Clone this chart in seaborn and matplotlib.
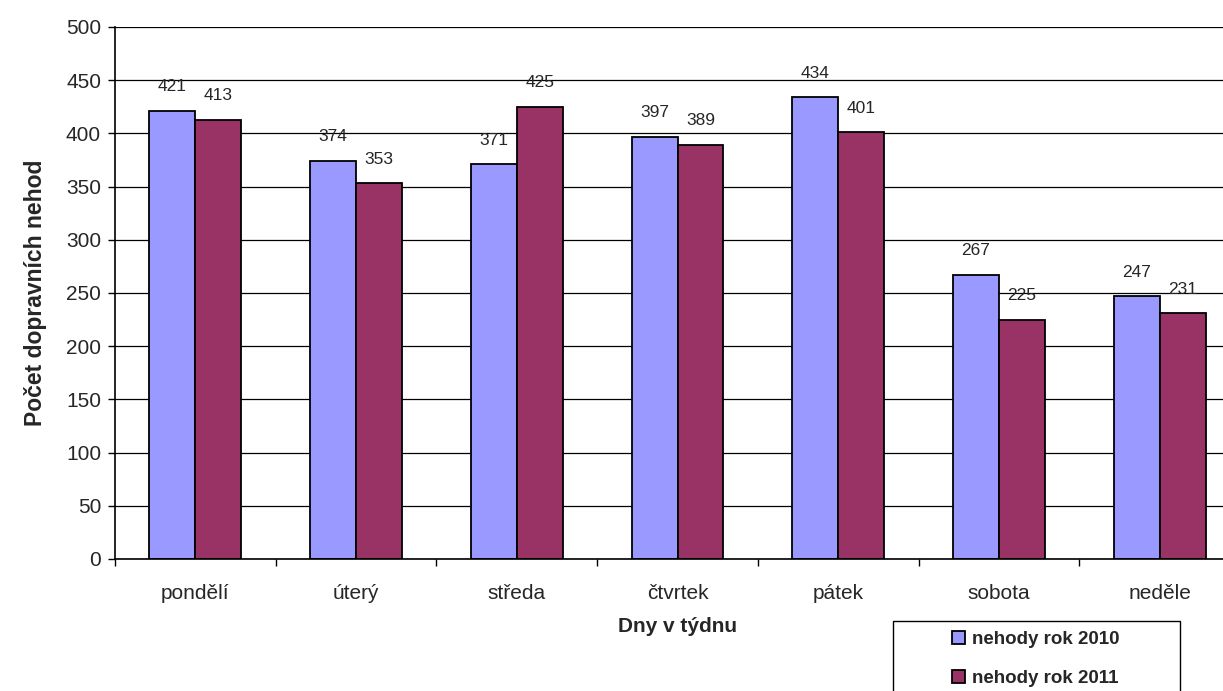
import numpy as np
import pandas as pd
import matplotlib
matplotlib.use("Agg")
import matplotlib.pyplot as plt
import seaborn as sns
from matplotlib.patches import Rectangle

# data
days = ["pondělí", "úterý", "středa", "čtvrtek", "pátek", "sobota", "neděle"]
series_names = ["nehody rok 2010", "nehody rok 2011"]
accidents_2010 = [421, 374, 371, 397, 434, 267, 247]
accidents_2011 = [413, 353, 425, 389, 401, 225, 231]
bar_colors = ["#9999FF", "#993366"]

df = pd.DataFrame({
    "den": days * 2,
    "serie": [series_names[0]] * len(days) + [series_names[1]] * len(days),
    "pocet": accidents_2010 + accidents_2011,
})

sns.set_theme(style="white")
plt.rcParams["font.family"] = ["Liberation Sans", "DejaVu Sans"]

W, H = 1223, 691
fig = plt.figure(figsize=(W / 100, H / 100), dpi=100)
# plot area runs past the right edge of the picture, as in the reference
ax = fig.add_axes([115 / W, (H - 559) / H, 1125 / W, 532 / H])

sns.barplot(data=df, x="den", y="pocet", hue="serie", order=days,
            hue_order=series_names, palette=bar_colors, width=2 / 3.5,
            edgecolor="black", linewidth=1.3, saturation=1, ax=ax)

for cont in ax.containers:
    ax.bar_label(cont, fmt="%d", padding=12, fontsize=12.5)

ax.set_ylim(0, 500)
ax.set_xlim(-0.5, len(days) - 0.5)
ax.set_yticks(np.arange(0, 501, 50))
ax.yaxis.grid(True, color="black", linewidth=0.9)
ax.set_axisbelow(True)

ax.set_xticks(np.arange(len(days)))
ax.set_xticklabels(days)
ax.set_xticks(np.arange(-0.5, len(days)), minor=True)
ax.tick_params(axis="x", which="major", length=0, pad=18, labelsize=15)
ax.tick_params(axis="x", which="minor", length=5, width=1, color="black", direction="out", bottom=True)
ax.tick_params(axis="y", length=5, width=1, color="black", direction="out", left=True, labelsize=15, pad=5)

for side in ["top", "right"]:
    ax.spines[side].set_visible(False)
for side in ["left", "bottom"]:
    ax.spines[side].set_color("black")
    ax.spines[side].set_linewidth(1.2)

ax.set_xlabel("Dny v týdnu", fontsize=15, fontweight="bold", labelpad=10)
ax.set_ylabel("Počet dopravních nehod", fontsize=16.5, fontweight="bold", labelpad=14)

# legend: wide box running off the bottom of the picture
handles, labels = ax.get_legend_handles_labels()
ax.legend_.remove()
fig.patches.append(Rectangle((893 / W, -0.05), (1180 - 893) / W, 0.05 + (H - 621) / H,
                             transform=fig.transFigure, facecolor="white",
                             edgecolor="black", linewidth=1.0))
leg = fig.legend(handles, labels, loc="upper left",
                 bbox_to_anchor=(952 / W, 1 - 631 / H), borderaxespad=0,
                 frameon=False, prop={"size": 13.5, "weight": "bold"},
                 handlelength=0.7, handleheight=0.7, handletextpad=0.35,
                 labelspacing=1.17, borderpad=0)

fig.savefig("out.png", dpi=100)
